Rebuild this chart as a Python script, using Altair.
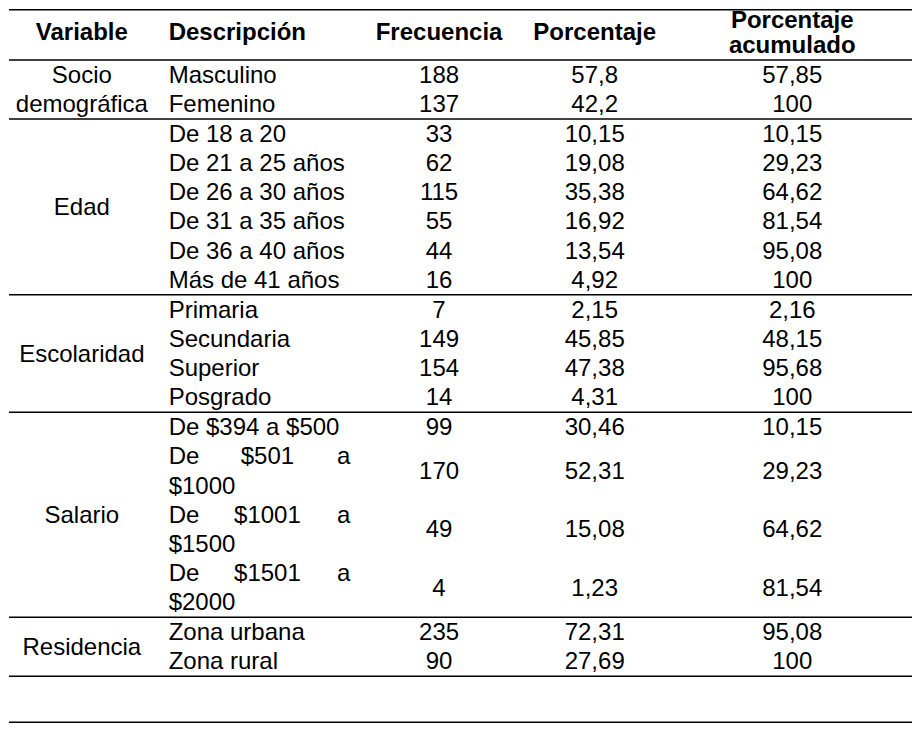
import altair as alt
import pandas as pd

# ---------------- data ----------------
headers = ["Variable", "Descripción", "Frecuencia", "Porcentaje", "Porcentaje\nacumulado"]
variables = ["Socio\ndemográfica", "Edad", "Escolaridad", "Salario", "Residencia"]
descripciones = [
    ["Masculino", "Femenino"],
    ["De 18 a 20", "De 21 a 25 años", "De 26 a 30 años", "De 31 a 35 años",
     "De 36 a 40 años", "Más de 41 años"],
    ["Primaria", "Secundaria", "Superior", "Posgrado"],
    ["De $394 a $500", "De $501 a $1000", "De $1001 a $1500", "De $1501 a $2000"],
    ["Zona urbana", "Zona rural"],
]
frecuencia = [[188, 137], [33, 62, 115, 55, 44, 16], [7, 149, 154, 14],
              [99, 170, 49, 4], [235, 90]]
porcentaje = [[57.8, 42.2], [10.15, 19.08, 35.38, 16.92, 13.54, 4.92],
              [2.15, 45.85, 47.38, 4.31], [30.46, 52.31, 15.08, 1.23],
              [72.31, 27.69]]
acumulado = [[57.85, 100], [10.15, 29.23, 64.62, 81.54, 95.08, 100],
             [2.16, 48.15, 95.68, 100], [10.15, 29.23, 64.62, 81.54],
             [95.08, 100]]
wrapped = {"De $501 a $1000", "De $1001 a $1500", "De $1501 a $2000"}

# ---------------- layout ----------------
W, H = 904, 715
OFF = 8
FONT = "Liberation Sans, Arial, sans-serif"
FS = 24
X_VAR, X_DESC, X_DESC_MID, X_DESC_RIGHT = 81, 168, 267, 350
X_FREC, X_PCT, X_ACUM = 439, 595, 793
HEAD_BASE, HEAD_PITCH = 39.5, 25.5
HEAD_SEP = 59
FIRST, PITCH, GAP = 23, 29.2, 7
TOP_LINE, BOTTOM_LINE = 0.5, 730


def fmt(v):
    return f"{v:g}".replace(".", ",")


items = []


def add(x, y, text, kind):
    items.append({"x": x - OFF, "y": y - OFF, "text": text, "kind": kind})


# header
col_x = [X_VAR, X_DESC, X_FREC, X_PCT, X_ACUM]
for i, h in enumerate(headers):
    parts = h.split("\n")
    for j, p in enumerate(parts):
        y = HEAD_BASE + (j - (len(parts) - 1) / 2) * HEAD_PITCH
        add(col_x[i], y, p, "bold_left" if i == 1 else "bold")

seps = [TOP_LINE, HEAD_SEP]
sep = HEAD_SEP
for g, var in enumerate(variables):
    cur = sep + FIRST
    group_lines = []
    for r, desc in enumerate(descripciones[g]):
        if desc in wrapped:
            words = desc.split(" ")
            add(X_DESC, cur, words[0], "left")
            add(X_DESC_MID, cur, words[1], "center")
            add(X_DESC_RIGHT, cur, words[2], "right")
            add(X_DESC, cur + PITCH, words[3], "left")
            ys = [cur, cur + PITCH]
        else:
            add(X_DESC, cur, desc, "left")
            ys = [cur]
        ym = sum(ys) / len(ys)
        add(X_FREC, ym, str(frecuencia[g][r]), "center")
        add(X_PCT, ym, fmt(porcentaje[g][r]), "center")
        add(X_ACUM, ym, fmt(acumulado[g][r]), "center")
        group_lines += ys
        cur = ys[-1] + PITCH
    center = (group_lines[0] + group_lines[-1]) / 2
    vparts = var.split("\n")
    for j, p in enumerate(vparts):
        add(X_VAR, center + (j - (len(vparts) - 1) / 2) * PITCH, p, "center")
    sep = group_lines[-1] + GAP
    seps.append(sep)
seps.append(BOTTOM_LINE)

df = pd.DataFrame(items)
lines_df = pd.DataFrame({"y": [min(max(s - OFF, 0.75), H - 0.75) for s in seps]})

xs = alt.Scale(domain=[0, W], nice=False, zero=False)
ys = alt.Scale(domain=[0, H], nice=False, zero=False, reverse=True)


def text_layer(kind, align, weight="normal"):
    return alt.Chart(df[df["kind"] == kind]).mark_text(
        align=align, baseline="alphabetic", font=FONT, fontSize=FS,
        fontWeight=weight, color="#000000"
    ).encode(
        x=alt.X("x:Q", scale=xs, axis=None),
        y=alt.Y("y:Q", scale=ys, axis=None),
        text="text:N",
    )


rules = alt.Chart(lines_df).mark_rule(color="#000000", strokeWidth=1.5).encode(
    y=alt.Y("y:Q", scale=ys, axis=None),
    x=alt.value(0),
    x2=alt.value(W),
)

chart = alt.layer(
    rules,
    text_layer("left", "left"),
    text_layer("center", "center"),
    text_layer("right", "right"),
    text_layer("bold", "center", "bold"),
    text_layer("bold_left", "left", "bold"),
).properties(
    width=W, height=H,
    autosize=alt.AutoSizeParams(type="fit", contains="padding"),
    padding=0,
    background="white",
).configure_view(stroke=None)

chart.save("out.html", embed_options={"renderer": "svg", "actions": False})
